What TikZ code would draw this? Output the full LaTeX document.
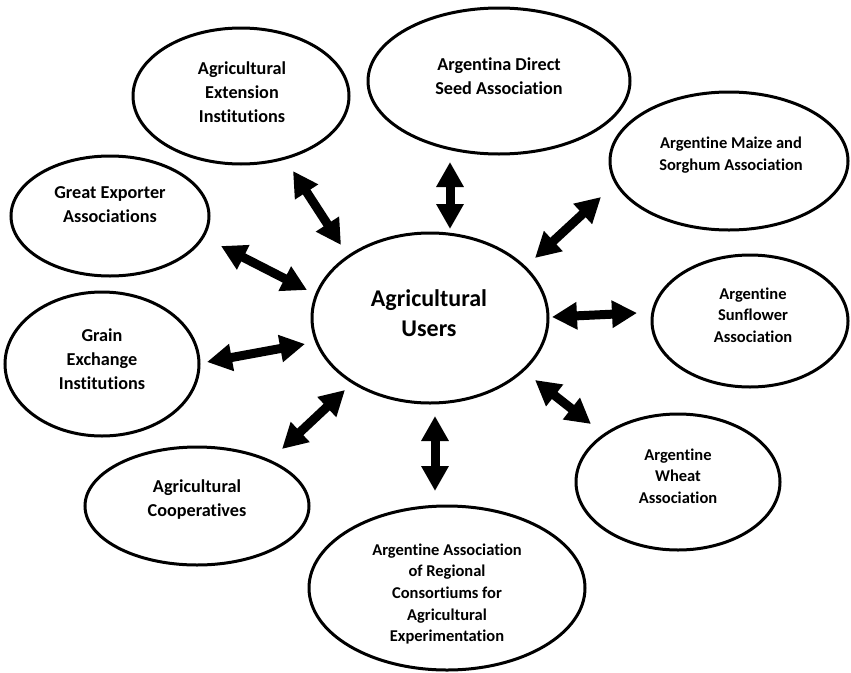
\documentclass[tikz,border=0pt]{standalone}
\usepackage{fontspec}
\setmainfont{Carlito}[Ligatures=NoCommon]
\usetikzlibrary{shapes.geometric,arrows.meta}
\tikzset{
  oval/.style={draw=black, line width=3pt, shape=ellipse, inner sep=0pt, fill=white},
  lbl/.style={align=center, inner sep=0pt, font=\fontsize{18.2}{24}\selectfont\bfseries},
  slbl/.style={align=center, inner sep=0pt, font=\fontsize{16.5}{21.7}\selectfont\bfseries},
  biglbl/.style={align=center, inner sep=0pt, font=\fontsize{24}{30}\selectfont\bfseries},
  dblarrow/.style={line width=9pt,
    {Triangle[width=26pt,length=25pt]}-{Triangle[width=26pt,length=25pt]}}
}
\begin{document}
\begin{tikzpicture}[x=1pt,y=-1pt]
\useasboundingbox (0,0) rectangle (851,672);
\fill[white] (0,0) rectangle (851,672);
% ellipses
\node[oval, minimum width=236pt, minimum height=170pt] (users) at (430,318) {};
\node[oval, minimum width=216pt, minimum height=136pt] (ext) at (241,96) {};
\node[oval, minimum width=262pt, minimum height=146pt] (seed) at (499,81) {};
\node[oval, minimum width=238pt, minimum height=138pt] (maize) at (729,161) {};
\node[oval, minimum width=196pt, minimum height=132pt] (sunf) at (750,321) {};
\node[oval, minimum width=204pt, minimum height=136pt] (wheat) at (678,482) {};
\node[oval, minimum width=276pt, minimum height=164pt] (aacrea) at (447,588) {};
\node[oval, minimum width=224pt, minimum height=118pt] (coop) at (197,506) {};
\node[oval, minimum width=194pt, minimum height=144pt] (grain) at (102,364) {};
\node[oval, minimum width=198pt, minimum height=120pt] (exp) at (110,216) {};
% labels
\node[biglbl] (users-t) at (429,313) {Agricultural\\Users};
\node[lbl] (ext-t) at (242,92) {Agricultural\\Extension\\Institutions};
\node[lbl] (seed-t) at (499,76) {Argentina Direct\\Seed Association};
\node[slbl] (maize-t) at (731,155) {Argentine Maize and\\Sorghum Association};
\node[slbl] (sunf-t) at (753,315) {Argentine\\Sunflower\\Association};
\node[slbl] (wheat-t) at (678,476) {Argentine\\Wheat\\Association};
\node[slbl] (aacrea-t) at (447,594) {Argentine Association\\of Regional\\Consortiums for\\Agricultural\\Experimentation};
\node[lbl] (coop-t) at (197,500) {Agricultural\\Cooperatives};
\node[lbl] (grain-t) at (102,359) {Grain\\Exchange\\Institutions};
\node[lbl] (exp-t) at (110,205) {Great Exporter\\Associations};
% arrow end points
\coordinate (ext-a) at (293,171);   \coordinate (ext-b) at (341,245);
\coordinate (exp-a) at (221,246);   \coordinate (exp-b) at (307,290);
\coordinate (seed-a) at (450,162);  \coordinate (seed-b) at (450,229);
\coordinate (maize-a) at (601,197); \coordinate (maize-b) at (535,258);
\coordinate (sunf-a) at (637,313);  \coordinate (sunf-b) at (552,317);
\coordinate (grain-a) at (207,362); \coordinate (grain-b) at (305,344);
\coordinate (coop-a) at (282,449);  \coordinate (coop-b) at (345,390);
\coordinate (aacrea-a) at (435,491);\coordinate (aacrea-b) at (435,416);
\coordinate (wheat-a) at (591,424); \coordinate (wheat-b) at (535,380);
% arrows
\foreach \n in {ext,exp,seed,maize,sunf,grain,coop,aacrea,wheat}
  \draw[dblarrow] (\n-a) -- (\n-b);
\end{tikzpicture}
\end{document}
